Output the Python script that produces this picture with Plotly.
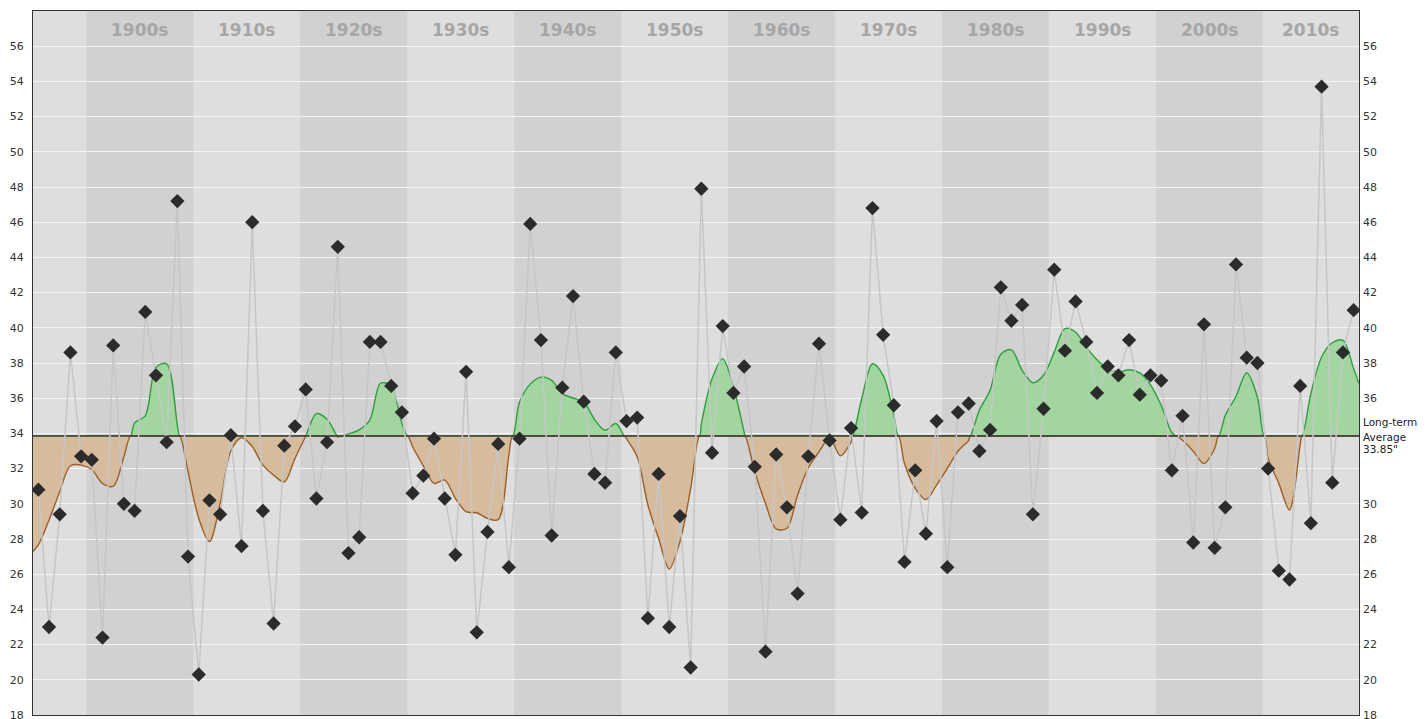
import plotly.graph_objects as go

# ---------------- data ----------------
years = list(range(1895, 2019))
rainfall = [
    30.8, 23.0, 29.4, 38.6, 32.7,                                  # 1895-1899
    32.5, 22.4, 39.0, 30.0, 29.6, 40.9, 37.3, 33.5, 47.2, 27.0,    # 1900s
    20.3, 30.2, 29.4, 33.9, 27.6, 46.0, 29.6, 23.2, 33.3, 34.4,    # 1910s
    36.5, 30.3, 33.5, 44.6, 27.2, 28.1, 39.2, 39.2, 36.7, 35.2,    # 1920s
    30.6, 31.6, 33.7, 30.3, 27.1, 37.5, 22.7, 28.4, 33.4, 26.4,    # 1930s
    33.7, 45.9, 39.3, 28.2, 36.6, 41.8, 35.8, 31.7, 31.2, 38.6,    # 1940s
    34.7, 34.9, 23.5, 31.7, 23.0, 29.3, 20.7, 47.9, 32.9, 40.1,    # 1950s
    36.3, 37.8, 32.1, 21.6, 32.8, 29.8, 24.9, 32.7, 39.1, 33.6,    # 1960s
    29.1, 34.3, 29.5, 46.8, 39.6, 35.6, 26.7, 31.9, 28.3, 34.7,    # 1970s
    26.4, 35.2, 35.7, 33.0, 34.2, 42.3, 40.4, 41.3, 29.4, 35.4,    # 1980s
    43.3, 38.7, 41.5, 39.2, 36.3, 37.8, 37.3, 39.3, 36.2, 37.3,    # 1990s
    37.0, 31.9, 35.0, 27.8, 40.2, 27.5, 29.8, 43.6, 38.3, 38.0,    # 2000s
    32.0, 26.2, 25.7, 36.7, 28.9, 53.7, 31.2, 38.6, 41.0,          # 2010s
]
# smoothed trend (at each year)
smooth = [
    27.66, 29.08, 30.69, 32.16, 32.20,
    31.95, 31.16, 31.00, 32.67, 34.60, 35.00, 37.75, 37.95, 34.46, 31.82,
    29.17, 27.85, 30.02, 33.00, 33.75, 33.25, 32.20, 31.63, 31.25, 32.58,
    33.84, 35.12, 34.80, 33.80, 33.97, 34.20, 34.75, 36.85, 36.70, 34.56,
    33.24, 32.16, 31.16, 31.35, 30.31, 29.55, 29.49, 29.17, 29.10, 32.76,
    35.79, 36.80, 37.20, 37.01, 36.26, 36.01, 35.79, 34.80, 34.18, 34.56,
    33.70, 32.67, 29.93, 28.04, 26.30, 27.85, 30.87, 34.55, 37.10, 38.25,
    36.64, 34.09, 31.82, 30.02, 28.57, 28.61, 30.50, 32.05, 32.95, 33.75,
    32.73, 33.52, 35.98, 37.96, 37.30, 35.03, 32.29, 30.88, 30.24, 31.06,
    32.01, 32.99, 33.61, 35.31, 36.45, 38.50, 38.75, 37.58, 36.88, 37.30,
    38.62, 39.95, 39.75, 38.90, 38.19, 37.68, 37.49, 37.62, 37.44, 36.76,
    35.60, 34.05, 33.61, 32.99, 32.29, 33.14, 35.03, 36.11, 37.45, 36.07,
    32.58, 31.16, 29.65, 33.33, 36.26, 38.34, 39.15, 39.28, 37.68,
]
smooth_start = 27.29   # value at left edge of chart
smooth_end = 36.83     # value at right edge of chart
long_term_avg = 33.85

decade_labels = ["1900s", "1910s", "1920s", "1930s", "1940s", "1950s",
                 "1960s", "1970s", "1980s", "1990s", "2000s", "2010s"]
decade_starts = [1900, 1910, 1920, 1930, 1940, 1950, 1960, 1970, 1980, 1990, 2000, 2010]
y_ticks = list(range(18, 57, 2))
right_ticks = [t for t in y_ticks if t not in (32, 34)]

X_MIN, X_MAX = 1895, 2019
Y_MIN, Y_MAX = 18, 58

LIGHT = "#dedede"
DARK = "#d1d1d1"
FONT = "DejaVu Sans"

# ---------------- derived ----------------
x_pts = [y + 0.5 for y in years]
sx = [X_MIN] + x_pts + [X_MAX]
sv = [smooth_start] + smooth + [smooth_end]

avg = long_term_avg
px, up, lo = [], [], []
for i in range(len(sx)):
    if i > 0:
        a, b = sv[i - 1] - avg, sv[i] - avg
        if a * b < 0:
            t = a / (a - b)
            xc = sx[i - 1] + t * (sx[i] - sx[i - 1])
            px.append(xc); up.append(avg); lo.append(avg)
    px.append(sx[i]); up.append(max(sv[i], avg)); lo.append(min(sv[i], avg))

fig = go.Figure()

base = dict(x=px, y=[avg] * len(px), mode="lines", line=dict(width=0),
            showlegend=False, hoverinfo="skip")
fig.add_trace(go.Scatter(**base))
fig.add_trace(go.Scatter(x=px, y=up, mode="lines", fill="tonexty",
                         fillcolor="#a2d5a0",
                         line=dict(color="#2e9e3e", width=1.4, shape="spline", smoothing=0.9),
                         showlegend=False, hoverinfo="skip"))
fig.add_trace(go.Scatter(**base))
fig.add_trace(go.Scatter(x=px, y=lo, mode="lines", fill="tonexty",
                         fillcolor="#d6bb9d",
                         line=dict(color="#9c5f26", width=1.4, shape="spline", smoothing=0.9),
                         showlegend=False, hoverinfo="skip"))

# long-term average line
fig.add_trace(go.Scatter(x=[X_MIN, X_MAX], y=[avg, avg], mode="lines",
                         line=dict(color="#3a3a3a", width=1.5),
                         showlegend=False, hoverinfo="skip"))

# yearly values
fig.add_trace(go.Scatter(x=x_pts, y=rainfall, mode="lines",
                         line=dict(color="#c6c6c6", width=1.5),
                         showlegend=False, hoverinfo="skip"))
fig.add_trace(go.Scatter(x=x_pts, y=rainfall, mode="markers",
                         marker=dict(symbol="diamond", size=11, color="#2b2b2b",
                                     line=dict(width=0)),
                         showlegend=False))

# invisible trace to anchor right axis
fig.add_trace(go.Scatter(x=[X_MIN], y=[avg], yaxis="y2", mode="lines",
                         line=dict(width=0), showlegend=False, hoverinfo="skip"))

# decade bands
shapes = []
for i, d in enumerate(decade_starts):
    if i % 2 == 0:
        shapes.append(dict(type="rect", xref="x", yref="paper",
                           x0=d, x1=min(d + 10, X_MAX), y0=0, y1=1,
                           fillcolor=DARK, line=dict(width=0), layer="below"))

annotations = []
for lab, d in zip(decade_labels, decade_starts):
    xc = (d + min(d + 10, X_MAX)) / 2
    annotations.append(dict(x=xc, y=0.973, xref="x", yref="paper",
                            text=lab, showarrow=False, yanchor="middle",
                            font=dict(family=FONT, size=17, color="#a6a6a6",
                                      weight="bold")))

for txt, yv in [("Long-term", 34.62), ("Average", 33.82), ('33.85"', 33.13)]:
    annotations.append(dict(x=1, xref="paper", y=yv, yref="y", text=txt,
                            showarrow=False, xanchor="left", yanchor="middle",
                            xshift=2, font=dict(family=FONT, size=10.5, color="#222")))

fig.update_layout(
    width=1427, height=719, autosize=False,
    margin=dict(l=33, r=68, t=11, b=4, pad=0, autoexpand=False),
    paper_bgcolor="white", plot_bgcolor=LIGHT,
    shapes=shapes, annotations=annotations,
    font=dict(family=FONT, size=11, color="#333"),
    xaxis=dict(range=[X_MIN, X_MAX], showgrid=False, zeroline=False,
               showticklabels=False, ticks="", showline=True, mirror=True,
               linecolor="#333", linewidth=1, automargin=False),
    yaxis=dict(range=[Y_MIN, Y_MAX], tickvals=y_ticks, showgrid=True,
               gridcolor="#f3f3f3", gridwidth=1, zeroline=False,
               showline=True, mirror=True, linecolor="#333", linewidth=1,
               ticks="", ticklabelstandoff=6, ticklabeloverflow="allow",
               automargin=False,
               tickfont=dict(family=FONT, size=11, color="#333")),
    yaxis2=dict(range=[Y_MIN, Y_MAX], tickvals=right_ticks, overlaying="y",
                side="right", showgrid=False, zeroline=False, ticks="",
                showline=False, ticklabelstandoff=3, ticklabeloverflow="allow",
                automargin=False,
                tickfont=dict(family=FONT, size=11, color="#333")),
)

fig.write_html("out.html", config={"displayModeBar": False},
               post_script="document.body.style.margin='0';document.body.style.overflow='hidden';")
